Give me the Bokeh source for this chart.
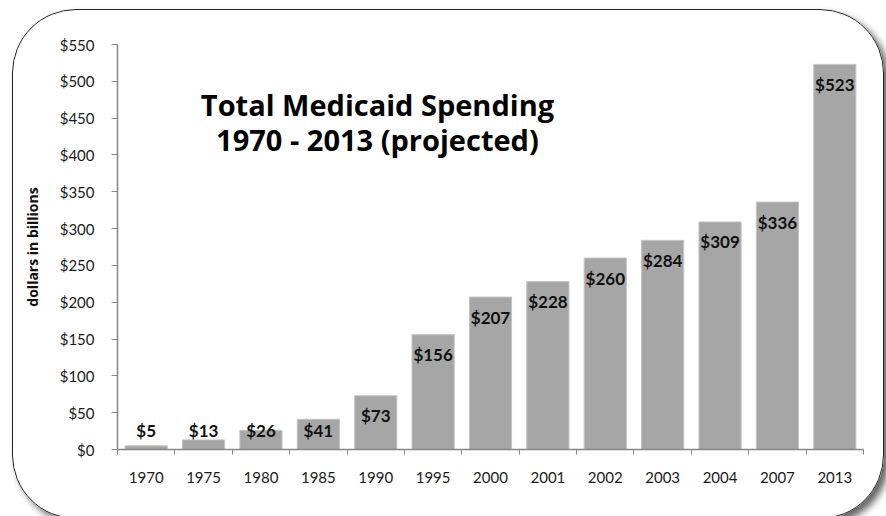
from bokeh.plotting import figure
from bokeh.models import (FixedTicker, PrintfTickFormatter, Label,
                          ColumnDataSource, Range1d, InlineStyleSheet)
from bokeh.core.properties import value
from bokeh.embed import file_html
from bokeh.resources import INLINE

# ---- data ----
years = ["1970", "1975", "1980", "1985", "1990", "1995", "2000",
         "2001", "2002", "2003", "2004", "2007", "2013"]
spending = [5, 13, 26, 41, 73, 156, 207, 228, 260, 284, 309, 336, 523]
y_ticks = [0, 50, 100, 150, 200, 250, 300, 350, 400, 450, 500, 550]
title_lines = ["Total Medicaid Spending", "1970 - 2013 (projected)"]
y_title = "dollars in billions"

n = len(years)
centers = [i + 0.5 for i in range(n)]
labels = ["$%d" % v for v in spending]
# Excel-like "inside end" labels; short bars get their label lifted above the axis
label_y = [max(v, 52.3) for v in spending]

src = ColumnDataSource(dict(x=centers, top=spending, label=labels, ly=label_y))

frame_css = InlineStyleSheet(css="""
:host { position: relative; overflow: hidden; }
:host::after {
  content: "";
  position: absolute;
  left: 12px; top: 9px;
  width: 870px; height: 508px;
  border: 1.8px solid #222222;
  border-radius: 64px;
  box-shadow: 5px 5px 7px rgba(0,0,0,0.6);
  pointer-events: none;
}
""")

p = figure(width=886, height=516, output_backend="svg", toolbar_location=None,
           x_range=Range1d(0, n), y_range=Range1d(0, 550),
           min_border_left=117, min_border_right=23,
           min_border_top=44, min_border_bottom=67,
           stylesheets=[frame_css])
p.border_fill_color = None
p.background_fill_color = None
p.outline_line_color = None
p.xgrid.visible = False
p.ygrid.visible = False

# ---- bars ----
p.vbar(x="x", top="top", width=0.735, source=src, fill_color="#a6a6a6",
       line_color="#c4c4c4", line_width=1)

p.text(x="x", y="ly", text="label", source=src, y_offset=20,
       text_align="center", text_baseline="middle",
       text_font=value("Lato"), text_font_style="bold", text_font_size="17px",
       text_color="#111111")

# ---- axes ----
xa = p.xaxis[0]
xa.ticker = FixedTicker(ticks=centers, minor_ticks=list(range(n + 1)))
xa.major_label_overrides = {c: y for c, y in zip(centers, years)}
xa.major_tick_out = 0
xa.major_tick_in = 0
xa.minor_tick_out = 5
xa.minor_tick_in = 0
xa.minor_tick_line_color = "#868686"
xa.axis_line_color = "#868686"
xa.axis_line_width = 1.5
xa.major_label_standoff = 17
xa.major_label_text_font = "Lato"
xa.major_label_text_font_size = "15px"
xa.major_label_text_color = "#1a1a1a"

ya = p.yaxis[0]
ya.ticker = FixedTicker(ticks=y_ticks)
ya.formatter = PrintfTickFormatter(format="$%d")
ya.major_tick_out = 6
ya.major_tick_in = 0
ya.minor_tick_out = 0
ya.minor_tick_in = 0
ya.major_tick_line_color = "#868686"
ya.axis_line_color = "#868686"
ya.axis_line_width = 1.5
ya.major_label_standoff = 17
ya.major_label_text_font = "Lato"
ya.major_label_text_font_size = "15px"
ya.major_label_text_color = "#1a1a1a"
ya.axis_label = y_title
ya.axis_label_text_font = "Open Sans"
ya.axis_label_text_font_style = "bold"
ya.axis_label_text_font_size = "14px"
ya.axis_label_text_color = "#111111"
ya.axis_label_standoff = 15

# ---- title ----
for txt, yy in zip(title_lines, [469, 421]):
    p.add_layout(Label(x=4.53, y=yy, text=txt, text_align="center",
                       text_baseline="alphabetic", text_font="Open Sans",
                       text_font_style="bold", text_font_size="29px",
                       text_color="black"))

open("out.html", "w").write(file_html(p, INLINE))
